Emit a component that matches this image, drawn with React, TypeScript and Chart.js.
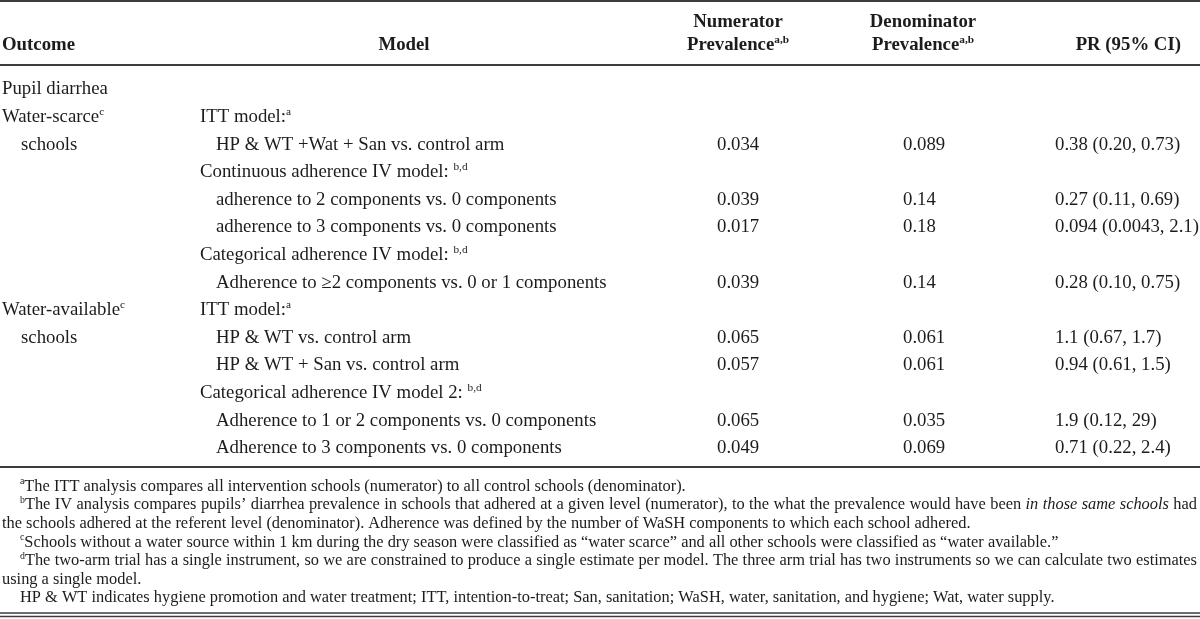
import React, { useEffect, useRef } from "react";
import { Chart, registerables } from "chart.js";
Chart.register(...registerables);

// ---------- DATA ----------
const headerOutcome = "Outcome";
const headerModel = "Model";
const headerNumerator = ["Numerator", "Prevalence^{a,b}"];
const headerDenominator = ["Denominator", "Prevalence^{a,b}"];
const headerPR = "PR (95% CI)";

const outcomeLabels = [
  "Pupil diarrhea", "Water-scarce^{c}", "schools", "", "", "", "", "",
  "Water-available^{c}", "schools", "", "", "", "",
];
const outcomeIndent = [0, 0, 1, 0, 0, 0, 0, 0, 0, 1, 0, 0, 0, 0];

const modelLabels = [
  "",
  "ITT model:^{a}",
  "HP & WT +Wat + San vs. control arm",
  "Continuous adherence IV model: ^{b,d}",
  "adherence to 2 components vs. 0 components",
  "adherence to 3 components vs. 0 components",
  "Categorical adherence IV model: ^{b,d}",
  "Adherence to ≥2 components vs. 0 or 1 components",
  "ITT model:^{a}",
  "HP & WT vs. control arm",
  "HP & WT + San vs. control arm",
  "Categorical adherence IV model 2: ^{b,d}",
  "Adherence to 1 or 2 components vs. 0 components",
  "Adherence to 3 components vs. 0 components",
];
const modelIndent = [0, 0, 1, 0, 1, 1, 0, 1, 0, 1, 1, 0, 1, 1];

const numeratorPrev = ["", "", "0.034", "", "0.039", "0.017", "", "0.039", "", "0.065", "0.057", "", "0.065", "0.049"];
const denominatorPrev = ["", "", "0.089", "", "0.14", "0.18", "", "0.14", "", "0.061", "0.061", "", "0.035", "0.069"];
const prCI = ["", "", "0.38 (0.20, 0.73)", "", "0.27 (0.11, 0.69)", "0.094 (0.0043, 2.1)", "", "0.28 (0.10, 0.75)", "", "1.1 (0.67, 1.7)", "0.94 (0.61, 1.5)", "", "1.9 (0.12, 29)", "0.71 (0.22, 2.4)"];

const footnoteLines = [
  "^{a}The ITT analysis compares all intervention schools (numerator) to all control schools (denominator).",
  "^{b}The IV analysis compares pupils’ diarrhea prevalence in schools that adhered at a given level (numerator), to the what the prevalence would have been *in those same schools* had",
  "the schools adhered at the referent level (denominator). Adherence was defined by the number of WaSH components to which each school adhered.",
  "^{c}Schools without a water source within 1 km during the dry season were classified as “water scarce” and all other schools were classified as “water available.”",
  "^{d}The two-arm trial has a single instrument, so we are constrained to produce a single estimate per model. The three arm trial has two instruments so we can calculate two estimates",
  "using a single model.",
  "HP & WT indicates hygiene promotion and water treatment; ITT, intention-to-treat; San, sanitation; WaSH, water, sanitation, and hygiene; Wat, water supply.",
];
const footnoteFirstLine = [1, 1, 0, 1, 1, 0, 1];
const footnoteJustified = [0, 1, 0, 0, 1, 0, 0];

// ---------- LAYOUT (x in px, y in row units) ----------
const ROW0_PX = 89.5;
const ROW_STEP_PX = 27.6;
const toRow = (px: number) => (px - ROW0_PX) / ROW_STEP_PX;

const X = { outcome: 2, outcomeIndent: 21, model: 200, modelIndent: 216, num: 717, den: 903, pr: 1055 };
const HX = { outcome: 2, model: 404, num: 738, den: 923, prRight: 1181 };
const FOOT_X = { first: 20, cont: 2, right: 1197 };

const Y = {
  topRule: toRow(1),
  head1: toRow(22.5),
  head2: toRow(45.5),
  headRule: toRow(65),
  midRule: toRow(467),
  foot0: toRow(486.5),
  footStep: 18.6 / ROW_STEP_PX,
  bottom1: toRow(613),
  bottom2: toRow(616.5),
};

const BODY_SIZE = 18.8;
const FOOT_SIZE = 16.4;
const TEXT_COLOR = "#1c1c1c";
const RULE_COLOR = "#3c3c3c";
const FONT_FAMILY = '"Liberation Serif", "Times New Roman", serif';

type Seg = { t: string; sup?: boolean; it?: boolean };
function parse(s: string): Seg[] {
  const out: Seg[] = [];
  const re = /\^\{([^}]*)\}|\*([^*]*)\*/g;
  let last = 0;
  let m: RegExpExecArray | null;
  while ((m = re.exec(s))) {
    if (m.index > last) out.push({ t: s.slice(last, m.index) });
    if (m[1] !== undefined) out.push({ t: m[1], sup: true });
    else out.push({ t: m[2], it: true });
    last = re.lastIndex;
  }
  if (last < s.length) out.push({ t: s.slice(last) });
  return out;
}
function fontOf(size: number, bold: boolean, seg: Seg) {
  const s = seg.sup ? size * 0.6 : size;
  return `${seg.it ? "italic " : ""}${bold ? "bold " : ""}${s}px ${FONT_FAMILY}`;
}
function drawRich(
  ctx: CanvasRenderingContext2D, text: string, x: number, y: number, size: number,
  bold: boolean, align: "left" | "center" | "right", justifyTo?: number
) {
  if (!text) return;
  const segs = parse(text);
  const widths = segs.map((sg) => { ctx.font = fontOf(size, bold, sg); return ctx.measureText(sg.t).width; });
  const total = widths.reduce((a, b) => a + b, 0);
  let extra = 0;
  if (justifyTo) {
    let spaces = 0;
    segs.forEach((sg) => { if (!sg.sup) spaces += (sg.t.match(/ /g) || []).length; });
    if (spaces > 0) extra = (justifyTo - x - total) / spaces;
  }
  let cx = align === "center" ? x - total / 2 : align === "right" ? x - total : x;
  ctx.textAlign = "left";
  ctx.textBaseline = "middle";
  segs.forEach((sg, i) => {
    ctx.font = fontOf(size, bold, sg);
    const dy = sg.sup ? -size * 0.28 : 0;
    if (extra && !sg.sup) {
      const words = sg.t.split(" ");
      const sw = ctx.measureText(" ").width;
      words.forEach((w, k) => {
        if (k > 0) cx += sw + extra;
        ctx.fillText(w, cx, y + dy);
        cx += ctx.measureText(w).width;
      });
    } else {
      ctx.fillText(sg.t, cx, y + dy);
      cx += widths[i];
    }
  });
}

const tablePlugin = {
  id: "tablePlugin",
  afterDraw(chart: any) {
    const ctx: CanvasRenderingContext2D = chart.ctx;
    const xs = chart.scales.x;
    const ys = chart.scales.y;
    const px = (v: number) => xs.getPixelForValue(v);
    const py = (v: number) => ys.getPixelForValue(v);
    ctx.save();
    ctx.fillStyle = "#ffffff";
    ctx.fillRect(0, 0, chart.width, chart.height);
    ctx.fillStyle = TEXT_COLOR;

    // rules
    ctx.strokeStyle = RULE_COLOR;
    const rule = (r: number, w: number) => {
      ctx.lineWidth = w;
      ctx.beginPath();
      ctx.moveTo(xs.left, py(r));
      ctx.lineTo(xs.right, py(r));
      ctx.stroke();
    };
    rule(Y.topRule, 2);
    rule(Y.headRule, 2);
    rule(Y.midRule, 2);
    rule(Y.bottom1, 1.6);
    rule(Y.bottom2, 1.6);

    // header
    drawRich(ctx, headerOutcome, px(HX.outcome), py(Y.head2), BODY_SIZE, true, "left");
    drawRich(ctx, headerModel, px(HX.model), py(Y.head2), BODY_SIZE, true, "center");
    drawRich(ctx, headerNumerator[0], px(HX.num), py(Y.head1), BODY_SIZE, true, "center");
    drawRich(ctx, headerNumerator[1], px(HX.num), py(Y.head2), BODY_SIZE, true, "center");
    drawRich(ctx, headerDenominator[0], px(HX.den), py(Y.head1), BODY_SIZE, true, "center");
    drawRich(ctx, headerDenominator[1], px(HX.den), py(Y.head2), BODY_SIZE, true, "center");
    drawRich(ctx, headerPR, px(HX.prRight), py(Y.head2), BODY_SIZE, true, "right");

    // body rows
    outcomeLabels.forEach((_, i) => {
      const y = py(i);
      drawRich(ctx, outcomeLabels[i], px(outcomeIndent[i] ? X.outcomeIndent : X.outcome), y, BODY_SIZE, false, "left");
      drawRich(ctx, modelLabels[i], px(modelIndent[i] ? X.modelIndent : X.model), y, BODY_SIZE, false, "left");
      drawRich(ctx, numeratorPrev[i], px(X.num), y, BODY_SIZE, false, "left");
      drawRich(ctx, denominatorPrev[i], px(X.den), y, BODY_SIZE, false, "left");
      drawRich(ctx, prCI[i], px(X.pr), y, BODY_SIZE, false, "left");
    });

    // footnotes
    footnoteLines.forEach((line, i) => {
      const y = py(Y.foot0 + i * Y.footStep);
      const x = px(footnoteFirstLine[i] ? FOOT_X.first : FOOT_X.cont);
      drawRich(ctx, line, x, y, FOOT_SIZE, false, "left", footnoteJustified[i] ? px(FOOT_X.right) : undefined);
    });
    ctx.restore();
  },
};

export default function App() {
  const ref = useRef<HTMLCanvasElement | null>(null);
  useEffect(() => {
    document.body.style.margin = "0";
    const canvas = ref.current;
    if (!canvas) return;
    const chart = new Chart(canvas, {
      type: "scatter",
      data: { datasets: [] },
      options: {
        animation: false,
        responsive: false,
        devicePixelRatio: 1,
        layout: { padding: 0 },
        plugins: { legend: { display: false }, tooltip: { enabled: false } },
        scales: {
          x: { type: "linear", min: 0, max: 1200, display: false },
          y: { type: "linear", min: toRow(0), max: toRow(619), reverse: true, display: false },
        },
      },
      plugins: [tablePlugin],
    });
    return () => chart.destroy();
  }, []);
  return (
    <div style={{ width: 1200, height: 619, background: "#fff" }}>
      <canvas ref={ref} width={1200} height={619} style={{ display: "block" }} />
    </div>
  );
}
